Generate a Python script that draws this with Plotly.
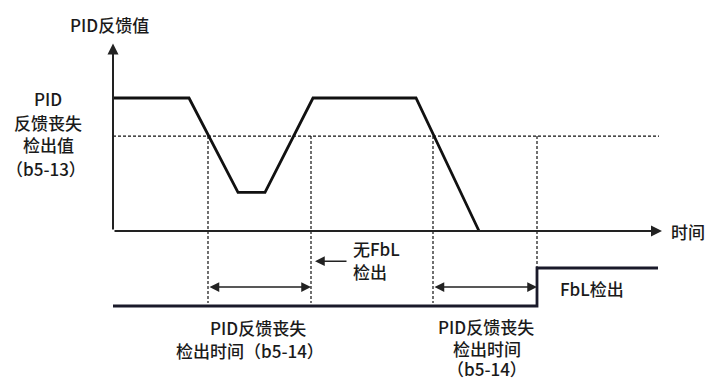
import plotly.graph_objects as go

# ---- data (time in arbitrary units, feedback in % of full scale) ----
fb_time = [0, 7.6, 12.5, 15.2, 20.0, 30.3, 36.6]
fb_value = [100, 100, 29, 29, 100, 100, 0]
threshold = 71.4
threshold_end = 54.6
axis_time_end = 54.9
axis_value_top = 141

detect_start = [9.5, 32.0]
detect_end = [19.8, 42.4]

out_time = [0, 42.4, 42.4, 54.5]
out_state = [0, 0, 1, 1]

nofbl_arrow = (23.5, 20.2, 1.18)  # from time, to time, state level

FONT = "Noto Sans CJK SC"
W, H = 706, 379
Y1_RANGE = [-111.3, 173.7]
Y2_RANGE = [-1.92, 8.05]


def y2_to_y1(v):
    frac = (v - Y2_RANGE[0]) / (Y2_RANGE[1] - Y2_RANGE[0])
    return Y1_RANGE[0] + frac * (Y1_RANGE[1] - Y1_RANGE[0])


fig = go.Figure()

dot = dict(color="#111", width=1.2, dash="3px,2px")
# threshold dotted line
fig.add_trace(go.Scatter(x=[0, threshold_end], y=[threshold, threshold], mode="lines",
                         line=dot, hoverinfo="skip"))
# vertical dotted markers (from threshold level down to output line)
bottom = y2_to_y1(out_state[0] + 0.08)
for t in detect_start + detect_end:
    fig.add_trace(go.Scatter(x=[t, t], y=[threshold, bottom], mode="lines",
                             line=dot, hoverinfo="skip"))

# feedback signal
fig.add_trace(go.Scatter(x=fb_time, y=fb_value, mode="lines",
                         line=dict(color="#111", width=2.8), hoverinfo="skip"))
# output signal
fig.add_trace(go.Scatter(x=out_time, y=out_state, mode="lines", yaxis="y2",
                         line=dict(color="#1a1a2a", width=2.8), hoverinfo="skip"))

fig.update_layout(
    width=W, height=H, margin=dict(l=0, r=0, t=0, b=0),
    paper_bgcolor="white", plot_bgcolor="white", showlegend=False,
    xaxis=dict(range=[-11.3, 59.3], visible=False, fixedrange=True),
    yaxis=dict(range=Y1_RANGE, visible=False, fixedrange=True),
    yaxis2=dict(range=Y2_RANGE, visible=False, overlaying="y", fixedrange=True),
)

ann = []
# axes with arrowheads
ann.append(dict(x=0, y=axis_value_top, ax=0, ay=0, xref="x", yref="y", axref="x", ayref="y",
                text="", showarrow=True, arrowhead=2, arrowsize=1.1, arrowwidth=2, arrowcolor="#222"))
ann.append(dict(x=axis_time_end, y=0, ax=0, ay=0, xref="x", yref="y", axref="x", ayref="y",
                text="", showarrow=True, arrowhead=2, arrowsize=1.1, arrowwidth=2, arrowcolor="#222"))
# detection time double arrows
for s, e in zip(detect_start, detect_end):
    ann.append(dict(x=e, y=0.5, ax=s, ay=0.5, xref="x", yref="y2", axref="x", ayref="y2",
                    text="", showarrow=True, arrowhead=2, startarrowhead=2, arrowside="end+start",
                    arrowsize=1.3, startarrowsize=1.3, arrowwidth=1.5, arrowcolor="#222"))
# "no FbL detection" arrow
ann.append(dict(x=nofbl_arrow[1], y=nofbl_arrow[2], ax=nofbl_arrow[0], ay=nofbl_arrow[2],
                xref="x", yref="y2", axref="x", ayref="y2",
                text="", showarrow=True, arrowhead=2, arrowsize=1.3, arrowwidth=1.5, arrowcolor="#222"))


def label(text, px, py, anchor="center"):
    ann.append(dict(text=text, x=px / W, y=1 - py / H, xref="paper", yref="paper",
                    xanchor=anchor, yanchor="middle", showarrow=False,
                    font=dict(family=FONT, size=17, color="#1a1a1a", weight=500)))


label("PID反馈值", 109, 24)
label("PID", 48, 98)
label("反馈丧失", 48, 122)
label("检出值", 48, 145)
label("（b5-13）", 46, 168)
label("时间", 669, 231, "left")
label("无FbL", 351, 248, "left")
label("检出", 351, 271, "left")
label("FbL检出", 558, 288, "left")
label("PID反馈丧失", 258, 327)
label("检出时间（b5-14）", 250, 350)
label("PID反馈丧失", 486, 326)
label("检出时间", 487, 348)
label("（b5-14）", 487, 368)

fig.update_layout(annotations=ann)
fig.write_html("out.html", config={"displayModeBar": False},
               post_script="document.body.style.margin='0';document.body.style.overflow='hidden';")
